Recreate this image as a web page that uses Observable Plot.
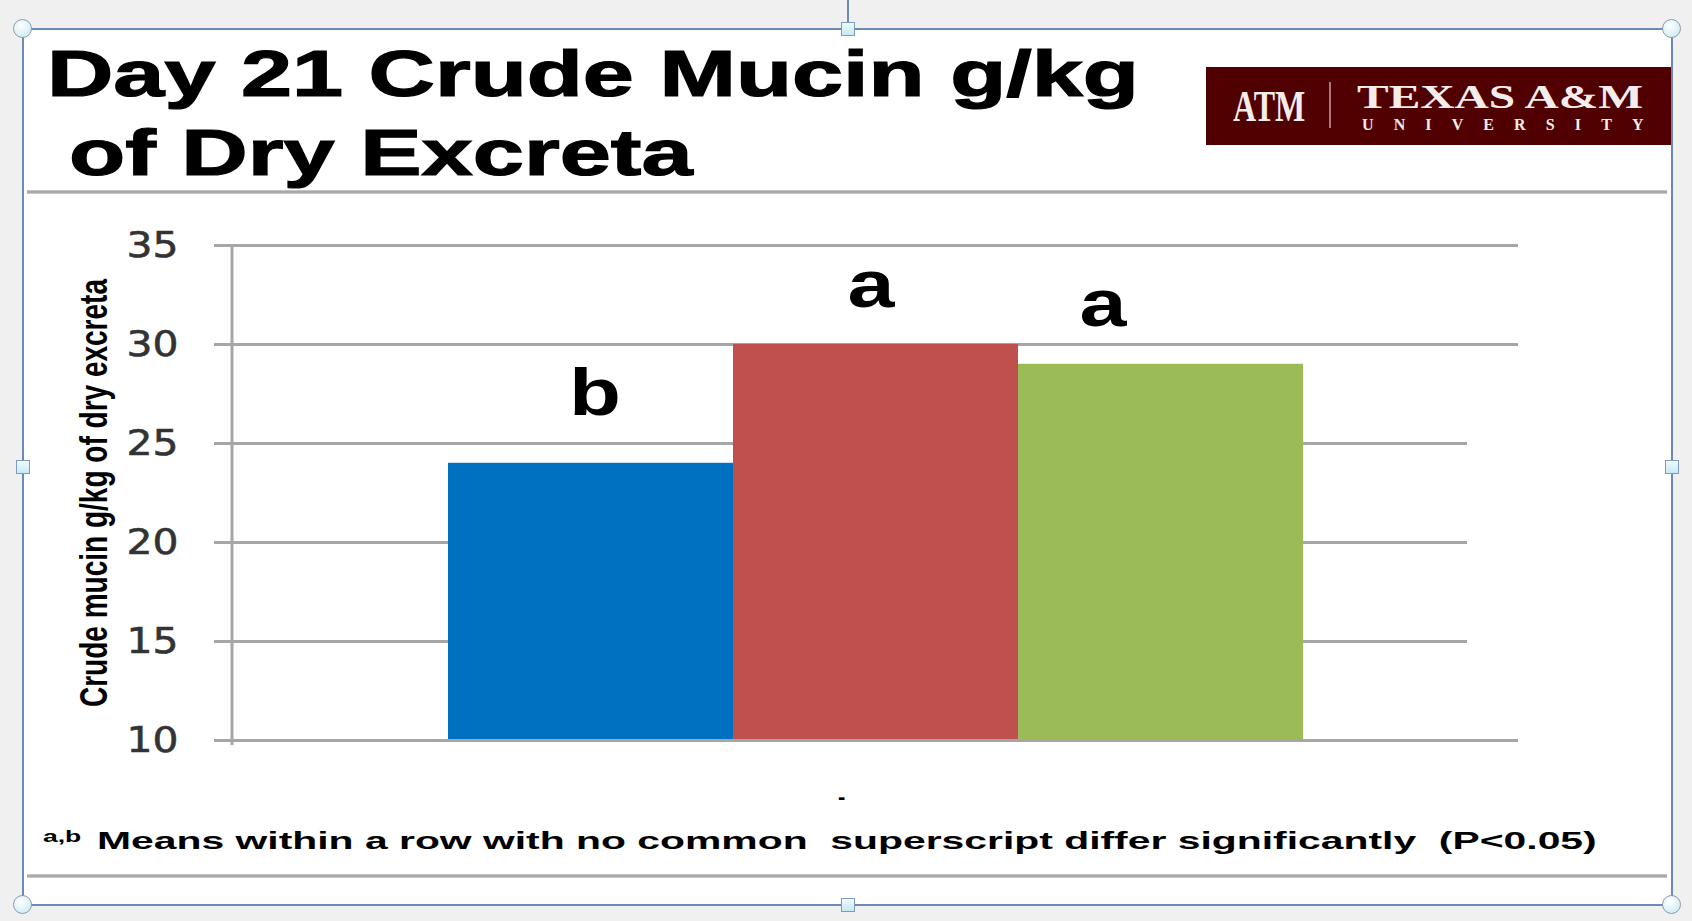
<!DOCTYPE html>
<html>
<head>
<meta charset="utf-8">
<script src="https://cdn.jsdelivr.net/npm/d3@7"></script>
<script src="https://cdn.jsdelivr.net/npm/@observablehq/plot@0.6"></script>
<style>
html,body{margin:0;padding:0;}
body{width:1692px;height:921px;background:#f0f0f0;position:relative;overflow:hidden;font-family:"Liberation Sans",Arial,sans-serif;}
.abs{position:absolute;}
.fit{position:absolute;white-space:pre;transform-origin:0 0;display:inline-block;}
#sheet{left:23px;top:29px;width:1649px;height:876px;background:#fff;}
.fl{background:#6a8bb6;position:absolute;}
.circ{position:absolute;width:19px;height:19px;border-radius:50%;background:radial-gradient(circle at 40% 35%,#ffffff,#c2e7ef);border:1.5px solid #8c9cb0;box-sizing:border-box;}
.sq{position:absolute;width:14px;height:14px;background:linear-gradient(#eefbfe,#c6eaf2);border:1.5px solid #7f9cc0;box-sizing:border-box;}
.sep{position:absolute;left:27px;width:1640px;height:4px;background:linear-gradient(#d2d2d2,#9a9a9a,#d6d6d6);}
.title{font-weight:bold;font-size:65px;line-height:65px;color:#000;-webkit-text-stroke:1.2px #000;}
#logo{left:1206px;top:67px;width:466px;height:78px;background:#500000;}
.serif{font-family:"Liberation Serif","Times New Roman",serif;font-weight:bold;color:#f5ecec;}
#chart{position:absolute;left:0;top:200px;}
</style>
</head>
<body>
<div id="sheet" class="abs"></div>

<!-- title -->
<div id="t1" class="fit title" style="left:47px;top:41px;">Day 21 Crude Mucin g/kg</div>
<div id="t2" class="fit title" style="left:69px;top:120px;">of Dry Excreta</div>

<!-- logo -->
<div id="logo" class="abs"></div>
<div id="emblem" class="fit serif" style="left:1233px;top:85px;font-size:44px;line-height:44px;">ATM</div>
<div class="abs" style="left:1329px;top:82px;width:2px;height:46px;background:#a87a7a;"></div>
<div id="tamu" class="fit serif" style="left:1357px;top:84px;font-size:33px;line-height:26px;">TEXAS A&amp;M</div>
<div id="univ" class="fit serif" style="left:1362px;top:118px;font-size:16px;line-height:13px;">UNIVERSITY</div>

<div class="sep" style="top:190px;"></div>
<div class="sep" style="top:874px;"></div>

<div id="chart"></div>

<!-- footnote -->
<div id="sup" class="fit" style="left:43px;top:828px;font-size:17px;line-height:17px;font-weight:bold;color:#000;">a,b</div>
<div id="foot" class="fit" style="left:97px;top:829px;font-size:24px;line-height:24px;font-weight:bold;color:#000;">Means within a row with no common  superscript differ significantly  (P&lt;0.05)</div>

<div class="fit" style="left:838px;top:786px;font-size:22px;line-height:22px;font-weight:bold;">-</div>

<!-- selection frame -->
<div class="fl" style="left:22px;top:29px;width:2px;height:876px;"></div>
<div class="fl" style="left:1671px;top:29px;width:2px;height:876px;"></div>
<div class="fl" style="left:23px;top:28px;width:1649px;height:2px;"></div>
<div class="fl" style="left:23px;top:904px;width:1649px;height:2px;"></div>
<div class="fl" style="left:847px;top:0px;width:2px;height:24px;"></div>
<div class="circ" style="left:13px;top:19px;"></div>
<div class="circ" style="left:1662px;top:19px;"></div>
<div class="circ" style="left:13px;top:895px;"></div>
<div class="circ" style="left:1662px;top:895px;"></div>
<div class="sq" style="left:841px;top:22px;"></div>
<div class="sq" style="left:841px;top:898px;"></div>
<div class="sq" style="left:16px;top:460px;"></div>
<div class="sq" style="left:1665px;top:460px;"></div>

<script>
// ---- data ----
const treatments = ["Treatment 1", "Treatment 2", "Treatment 3"];
const mucin = [24.0, 30.0, 29.0];
const letters = ["b", "a", "a"];
const yTicks = [10, 15, 20, 25, 30, 35];
const barColors = ["#0070C0", "#C0504D", "#9BBB59"];
const yLabel = "Crude mucin g/kg of dry excreta";

const data = treatments.map((t, i) => ({treatment: t, value: mucin[i], letter: letters[i]}));
const shortTicks = yTicks.filter(t => t > yTicks[0] && t < 30);
const longTicks = yTicks.filter(t => t >= 30);

const gridColor = "#a6a6a6";
const letterFont = {fontSize: 66, fontWeight: "bold", fontFamily: "Liberation Sans, Arial, sans-serif", fill: "#000"};

const axisLine = (index, scales, values, dims) =>
  d3.create("svg:line")
    .attr("x1", dims.marginLeft).attr("x2", dims.marginLeft)
    .attr("y1", scales.y(yTicks[yTicks.length - 1]))
    .attr("y2", scales.y(yTicks[0]) + 5)
    .attr("stroke", gridColor).attr("stroke-width", 3).node();

const chart = Plot.plot({
  width: 1692,
  height: 610,
  marginLeft: 232,
  marginRight: 174,
  marginTop: 45,
  marginBottom: 70,
  style: {background: "transparent", overflow: "visible"},
  x: {type: "band", domain: treatments, paddingInner: 0, paddingOuter: 0.75, axis: null},
  y: {domain: [yTicks[0], yTicks[yTicks.length - 1]], ticks: yTicks},
  color: {domain: treatments, range: barColors},
  marks: [
    Plot.ruleY(longTicks, {stroke: gridColor, strokeWidth: 3}),
    Plot.ruleY(shortTicks, {stroke: gridColor, strokeWidth: 3, insetRight: 51}),
    Plot.barY(data, {x: "treatment", y1: yTicks[0], y2: "value", fill: "treatment"}),
    Plot.ruleY([yTicks[0]], {stroke: gridColor, strokeWidth: 3}),
    axisLine,
    Plot.axisY({
      ticks: yTicks, tickSize: 18, tickPadding: 36,
      label: yLabel, labelAnchor: "center", labelArrow: "none", labelOffset: 152
    }),
    Plot.text(data.slice(0, 1), {x: "treatment", y: "value", text: "letter", dx: 4, dy: -69, ...letterFont}),
    Plot.text(data.slice(1, 2), {x: "treatment", y: "value", text: "letter", dx: -5, dy: -59, ...letterFont}),
    Plot.text(data.slice(2, 3), {x: "treatment", y: "value", text: "letter", dx: -58, dy: -59, ...letterFont})
  ]
});
document.getElementById("chart").appendChild(chart);

// ---- styling the axis ----
const svg = d3.select(chart);
svg.selectAll('g[aria-label="y-axis tick"]').attr("stroke", gridColor).attr("stroke-width", 3);
svg.selectAll('g[aria-label="y-axis tick"] path').attr("stroke", gridColor).attr("stroke-width", 3);
svg.selectAll('g[aria-label="y-axis tick label"]')
  .attr("font-family", "DejaVu Sans, Verdana, sans-serif").attr("font-size", 36)
  .attr("fill", "#333").attr("stroke", "#333").attr("stroke-width", 0.6);
svg.selectAll('g[aria-label="y-axis tick label"] text')
  .attr("textLength", 52).attr("lengthAdjust", "spacingAndGlyphs");
svg.selectAll('g[aria-label="y-axis label"]')
  .attr("font-family", "Liberation Sans Narrow, Liberation Sans, Arial, sans-serif")
  .attr("font-weight", "bold").attr("font-size", 38).attr("fill", "#000");
svg.selectAll('g[aria-label="y-axis label"] text')
  .attr("textLength", 428).attr("lengthAdjust", "spacingAndGlyphs");
svg.selectAll('g[aria-label="text"] text').each(function() {
  const t = this.textContent;
  d3.select(this).attr("textLength", t === "b" ? 52 : 47).attr("lengthAdjust", "spacingAndGlyphs");
});

// ---- fit HTML texts to the stretched widths of the reference ----
function fitScale(id, target) {
  const el = document.getElementById(id);
  const w = el.offsetWidth;
  el.style.transform = `scaleX(${target / w})`;
}
function fitSpacing(id, target) {
  const el = document.getElementById(id);
  const n = el.textContent.length;
  const w = el.offsetWidth;
  el.style.letterSpacing = ((target - w) / (n - 1)) + "px";
}
fitScale("t1", 1092);
fitScale("t2", 624);
fitScale("emblem", 72);
fitScale("tamu", 286);
fitSpacing("univ", 281);
fitScale("sup", 39);
fitScale("foot", 1500);
</script>
</body>
</html>
